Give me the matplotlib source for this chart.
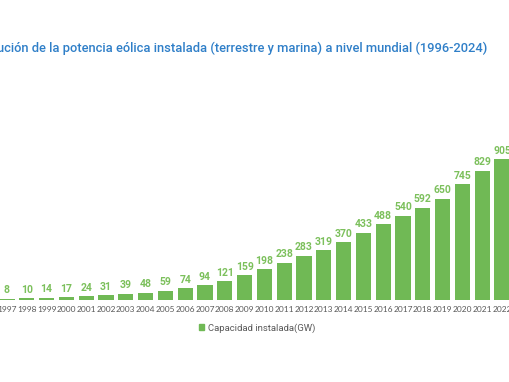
import matplotlib

matplotlib.use("Agg")
import matplotlib.pyplot as plt
from matplotlib.patches import Patch

# visible part of the chart (the reference is cropped on both sides)
years = [str(y) for y in range(1997, 2023)]
capacity = [8, 10, 14, 17, 24, 31, 39, 48, 59, 74, 94, 121, 159, 198, 238,
            283, 319, 370, 433, 488, 540, 592, 650, 745, 829, 905]

title = "Evolución de la potencia eólica instalada (terrestre y marina) a nivel mundial (1996-2024)"
legend_label = "Capacidad instalada(GW)"

BAR = "#70b955"
LABEL = "#7cc05c"
GREY = "#595959"
BLUE = "#2f7fc8"

W, H = 510, 382
fig = plt.figure(figsize=(W / 100, H / 100), dpi=100)
fig.patch.set_facecolor("white")

# axes spans the full width; baseline at y=300px, top at y=100px
ax = fig.add_axes([0, (H - 300) / H, 1, 200 / H])
x = list(range(len(years)))
bars = ax.bar(x, capacity, width=0.76, color=BAR)
ax.set_xlim(-7 / 19.8, -7 / 19.8 + W / 19.8)
ax.set_ylim(0, 200 / 0.1558)

for b, v in zip(bars, capacity):
    ax.text(b.get_x() + b.get_width() / 2, v + 22, f"{v}", ha="center", va="bottom",
            fontsize=7.5, fontweight="bold", color=LABEL, family="Roboto")

ax.set_xticks(x)
ax.set_xticklabels(years, fontsize=6.0, color=GREY, family="Lato")
ax.tick_params(axis="x", length=0, pad=4.5)
ax.set_yticks([])
for s in ax.spines.values():
    s.set_visible(False)

fig.text(487 / W, 1 - 48 / H, title, ha="right", va="center", fontsize=9.3,
         color=BLUE, family="Roboto", fontweight="medium")

fig.legend(handles=[Patch(color=BAR, label=legend_label)], loc="center",
           bbox_to_anchor=(257 / W, 1 - 328 / H), frameon=False,
           labelcolor=GREY, handlelength=0.6, handleheight=0.6, handletextpad=0.4,
           prop={"family": "Roboto", "size": 6.8})

fig.savefig("out.png", dpi=100, facecolor="white")
